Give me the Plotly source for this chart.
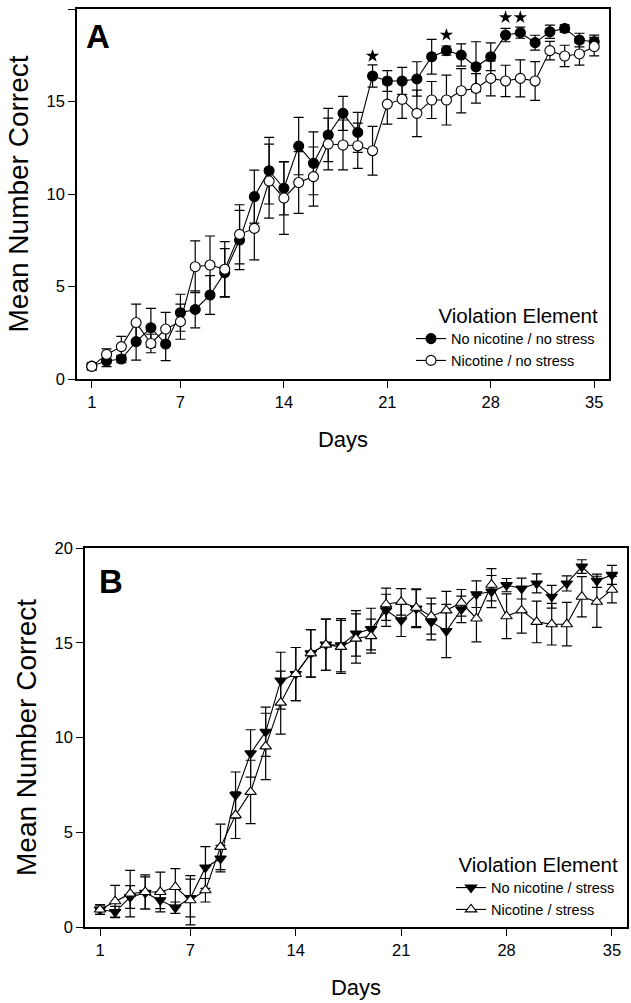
import plotly.graph_objects as go

days = list(range(1, 36))

# Panel A
a_nonic_nostress = [0.70, 0.97, 1.08, 2.02, 2.77, 1.89, 3.58, 3.76, 4.54, 5.75, 7.51, 9.86, 11.26, 10.31,
                    12.59, 11.66, 13.19, 14.36, 13.33, 16.38, 16.11, 16.11, 16.22, 17.42, 17.75, 17.51,
                    16.88, 17.42, 18.59, 18.72, 18.18, 18.77, 18.95, 18.32, 18.23]
a_nonic_nostress_err = [0.15, 0.30, 0.20, 1.00, 1.05, 0.90, 1.00, 1.00, 1.05, 1.30, 1.60, 1.43, 1.80, 1.44,
                        1.55, 1.70, 1.44, 0.92, 1.08, 0.60, 0.56, 0.73, 0.93, 0.94, 0.25, 0.60, 1.35,
                        0.75, 0.36, 0.30, 0.40, 0.36, 0.20, 0.37, 0.36]
a_nic_nostress = [0.68, 1.33, 1.75, 3.05, 1.92, 2.70, 3.10, 6.07, 6.16, 5.93, 7.82, 8.14, 10.70, 9.78,
                  10.62, 10.94, 12.70, 12.65, 12.61, 12.34, 14.86, 15.12, 14.36, 15.08, 15.08, 15.58,
                  15.71, 16.25, 16.11, 16.25, 16.11, 17.75, 17.46, 17.57, 17.97]
a_nic_nostress_err = [0.20, 0.30, 0.55, 1.00, 0.50, 0.90, 0.95, 1.40, 1.57, 1.50, 1.60, 1.70, 2.00, 1.96,
                      1.67, 1.60, 1.40, 1.35, 1.22, 1.32, 1.08, 1.03, 1.26, 1.00, 1.35, 1.20, 0.80,
                      0.95, 0.85, 1.00, 1.05, 0.50, 0.58, 0.60, 0.50]
star_days = [20, 25, 29, 30]
star_vals = [17.46, 18.60, 19.55, 19.55]

# Panel B
b_nonic_stress = [0.92, 0.79, 1.58, 1.80, 1.41, 1.02, 1.53, 3.14, 3.61, 6.96, 9.16, 10.30, 13.00, 13.35,
                  14.44, 14.90, 14.87, 15.49, 15.72, 16.71, 16.18, 16.80, 16.10, 15.62, 16.76, 17.56,
                  17.70, 18.04, 17.86, 18.13, 17.43, 18.13, 19.02, 18.27, 18.58]
b_nonic_stress_err = [0.25, 0.30, 0.60, 0.85, 0.44, 0.30, 1.00, 1.10, 0.70, 1.22, 1.25, 1.30, 1.50, 1.40,
                      1.25, 1.35, 1.40, 1.20, 1.10, 0.85, 0.85, 1.00, 0.95, 1.40, 0.70, 0.70, 0.85,
                      0.35, 0.55, 0.50, 0.60, 0.40, 0.36, 0.35, 0.50]
b_nic_stress = [0.92, 1.36, 1.76, 1.85, 1.85, 2.11, 1.41, 1.94, 4.23, 5.90, 7.13, 9.53, 11.84, 13.35,
                14.44, 14.90, 14.78, 15.22, 15.35, 17.03, 17.16, 16.85, 16.40, 16.71, 17.11, 16.28,
                18.06, 16.40, 16.71, 16.10, 15.98, 15.98, 17.43, 17.16, 17.80]
b_nic_stress_err = [0.25, 0.84, 1.23, 0.90, 1.05, 0.97, 1.30, 0.62, 1.20, 1.23, 1.67, 1.75, 1.66, 1.40,
                    1.25, 1.35, 1.40, 1.30, 0.90, 0.85, 0.70, 1.00, 0.95, 1.00, 0.70, 1.23, 0.85,
                    1.18, 1.20, 1.10, 1.10, 1.15, 1.06, 1.35, 0.70]

x_ticks = [1, 7, 14, 21, 28, 35]
y_ticks = [0, 5, 10, 15, 20]

FONT = "Liberation Sans, Arial, sans-serif"
W, H = 631, 1003

fig = go.Figure()


def add_series(y, err, name, symbol, fill, xa, ya, legend):
    fig.add_trace(go.Scatter(
        x=days, y=y, name=name, mode="lines+markers",
        xaxis=xa, yaxis=ya, legend=legend,
        line=dict(color="black", width=1.1),
        marker=dict(symbol=symbol, size=10, color=fill, line=dict(color="black", width=1.1)),
        error_y=dict(type="data", array=err, visible=True, color="black", thickness=1.2, width=5),
        cliponaxis=False,
    ))


add_series(a_nonic_nostress, a_nonic_nostress_err, "No nicotine / no stress", "circle", "black", "x", "y", "legend")
add_series(a_nic_nostress, a_nic_nostress_err, "Nicotine / no stress", "circle", "white", "x", "y", "legend")
fig.add_trace(go.Scatter(x=star_days, y=star_vals, mode="markers", showlegend=False,
                         marker=dict(symbol="star", size=10, color="black"), xaxis="x", yaxis="y",
                         cliponaxis=False))
add_series(b_nonic_stress, b_nonic_stress_err, "No nicotine / stress", "triangle-down", "black", "x2", "y2", "legend2")
add_series(b_nic_stress, b_nic_stress_err, "Nicotine / stress", "triangle-up", "white", "x2", "y2", "legend2")

axis_common = dict(showline=True, mirror=True, linecolor="black", linewidth=1.5, showgrid=False,
                   zeroline=False, ticks="outside", ticklen=7, tickwidth=1.2, tickcolor="black",
                   tickfont=dict(family=FONT, size=16.5, color="black"), automargin=False)

xa = dict(axis_common, range=[0, 36], tickvals=x_ticks,
          title=dict(text="Days", font=dict(family=FONT, size=22, color="black"), standoff=22))
ya = dict(axis_common, range=[0, 20], tickvals=y_ticks,
          title=dict(text="Mean Number Correct", font=dict(family=FONT, size=28, color="black"), standoff=10))

fig.update_layout(
    width=W, height=H, margin=dict(l=0, r=0, t=0, b=0),
    paper_bgcolor="white", plot_bgcolor="white",
    font=dict(family=FONT, color="black"),
    xaxis=dict(xa, domain=[77 / W, 609 / W], anchor="y"),
    yaxis=dict(ya, domain=[1 - 379 / H, 1 - 9 / H], anchor="x"),
    xaxis2=dict(xa, domain=[85 / W, 627 / W], anchor="y2"),
    yaxis2=dict(ya, domain=[1 - 927 / H, 1 - 548 / H], anchor="x2"),
    legend=dict(x=600 / W, y=1 - 377 / H, xanchor="right", yanchor="bottom",
                bgcolor="rgba(0,0,0,0)", font=dict(family=FONT, size=14.5, color="black"),
                title=dict(text="Violation Element", side="top right",
                           font=dict(family=FONT, size=20.5, color="black")),
                tracegroupgap=0, itemwidth=30),
    legend2=dict(x=620 / W, y=1 - 926 / H, xanchor="right", yanchor="bottom",
                 bgcolor="rgba(0,0,0,0)", font=dict(family=FONT, size=14.5, color="black"),
                 title=dict(text="Violation Element", side="top right",
                            font=dict(family=FONT, size=20.5, color="black")),
                 tracegroupgap=0, itemwidth=30),
    annotations=[
        dict(text="<b>A</b>", x=98 / W, y=1 - 37 / H, xref="paper", yref="paper", showarrow=False,
             xanchor="center", yanchor="middle", font=dict(family=FONT, size=33, color="black")),
        dict(text="<b>B</b>", x=111 / W, y=1 - 581 / H, xref="paper", yref="paper", showarrow=False,
             xanchor="center", yanchor="middle", font=dict(family=FONT, size=33, color="black")),
    ],
)

fig.write_html("out.html", config={"displayModeBar": False},
               post_script="document.body.style.margin='0';document.body.style.padding='0';")
